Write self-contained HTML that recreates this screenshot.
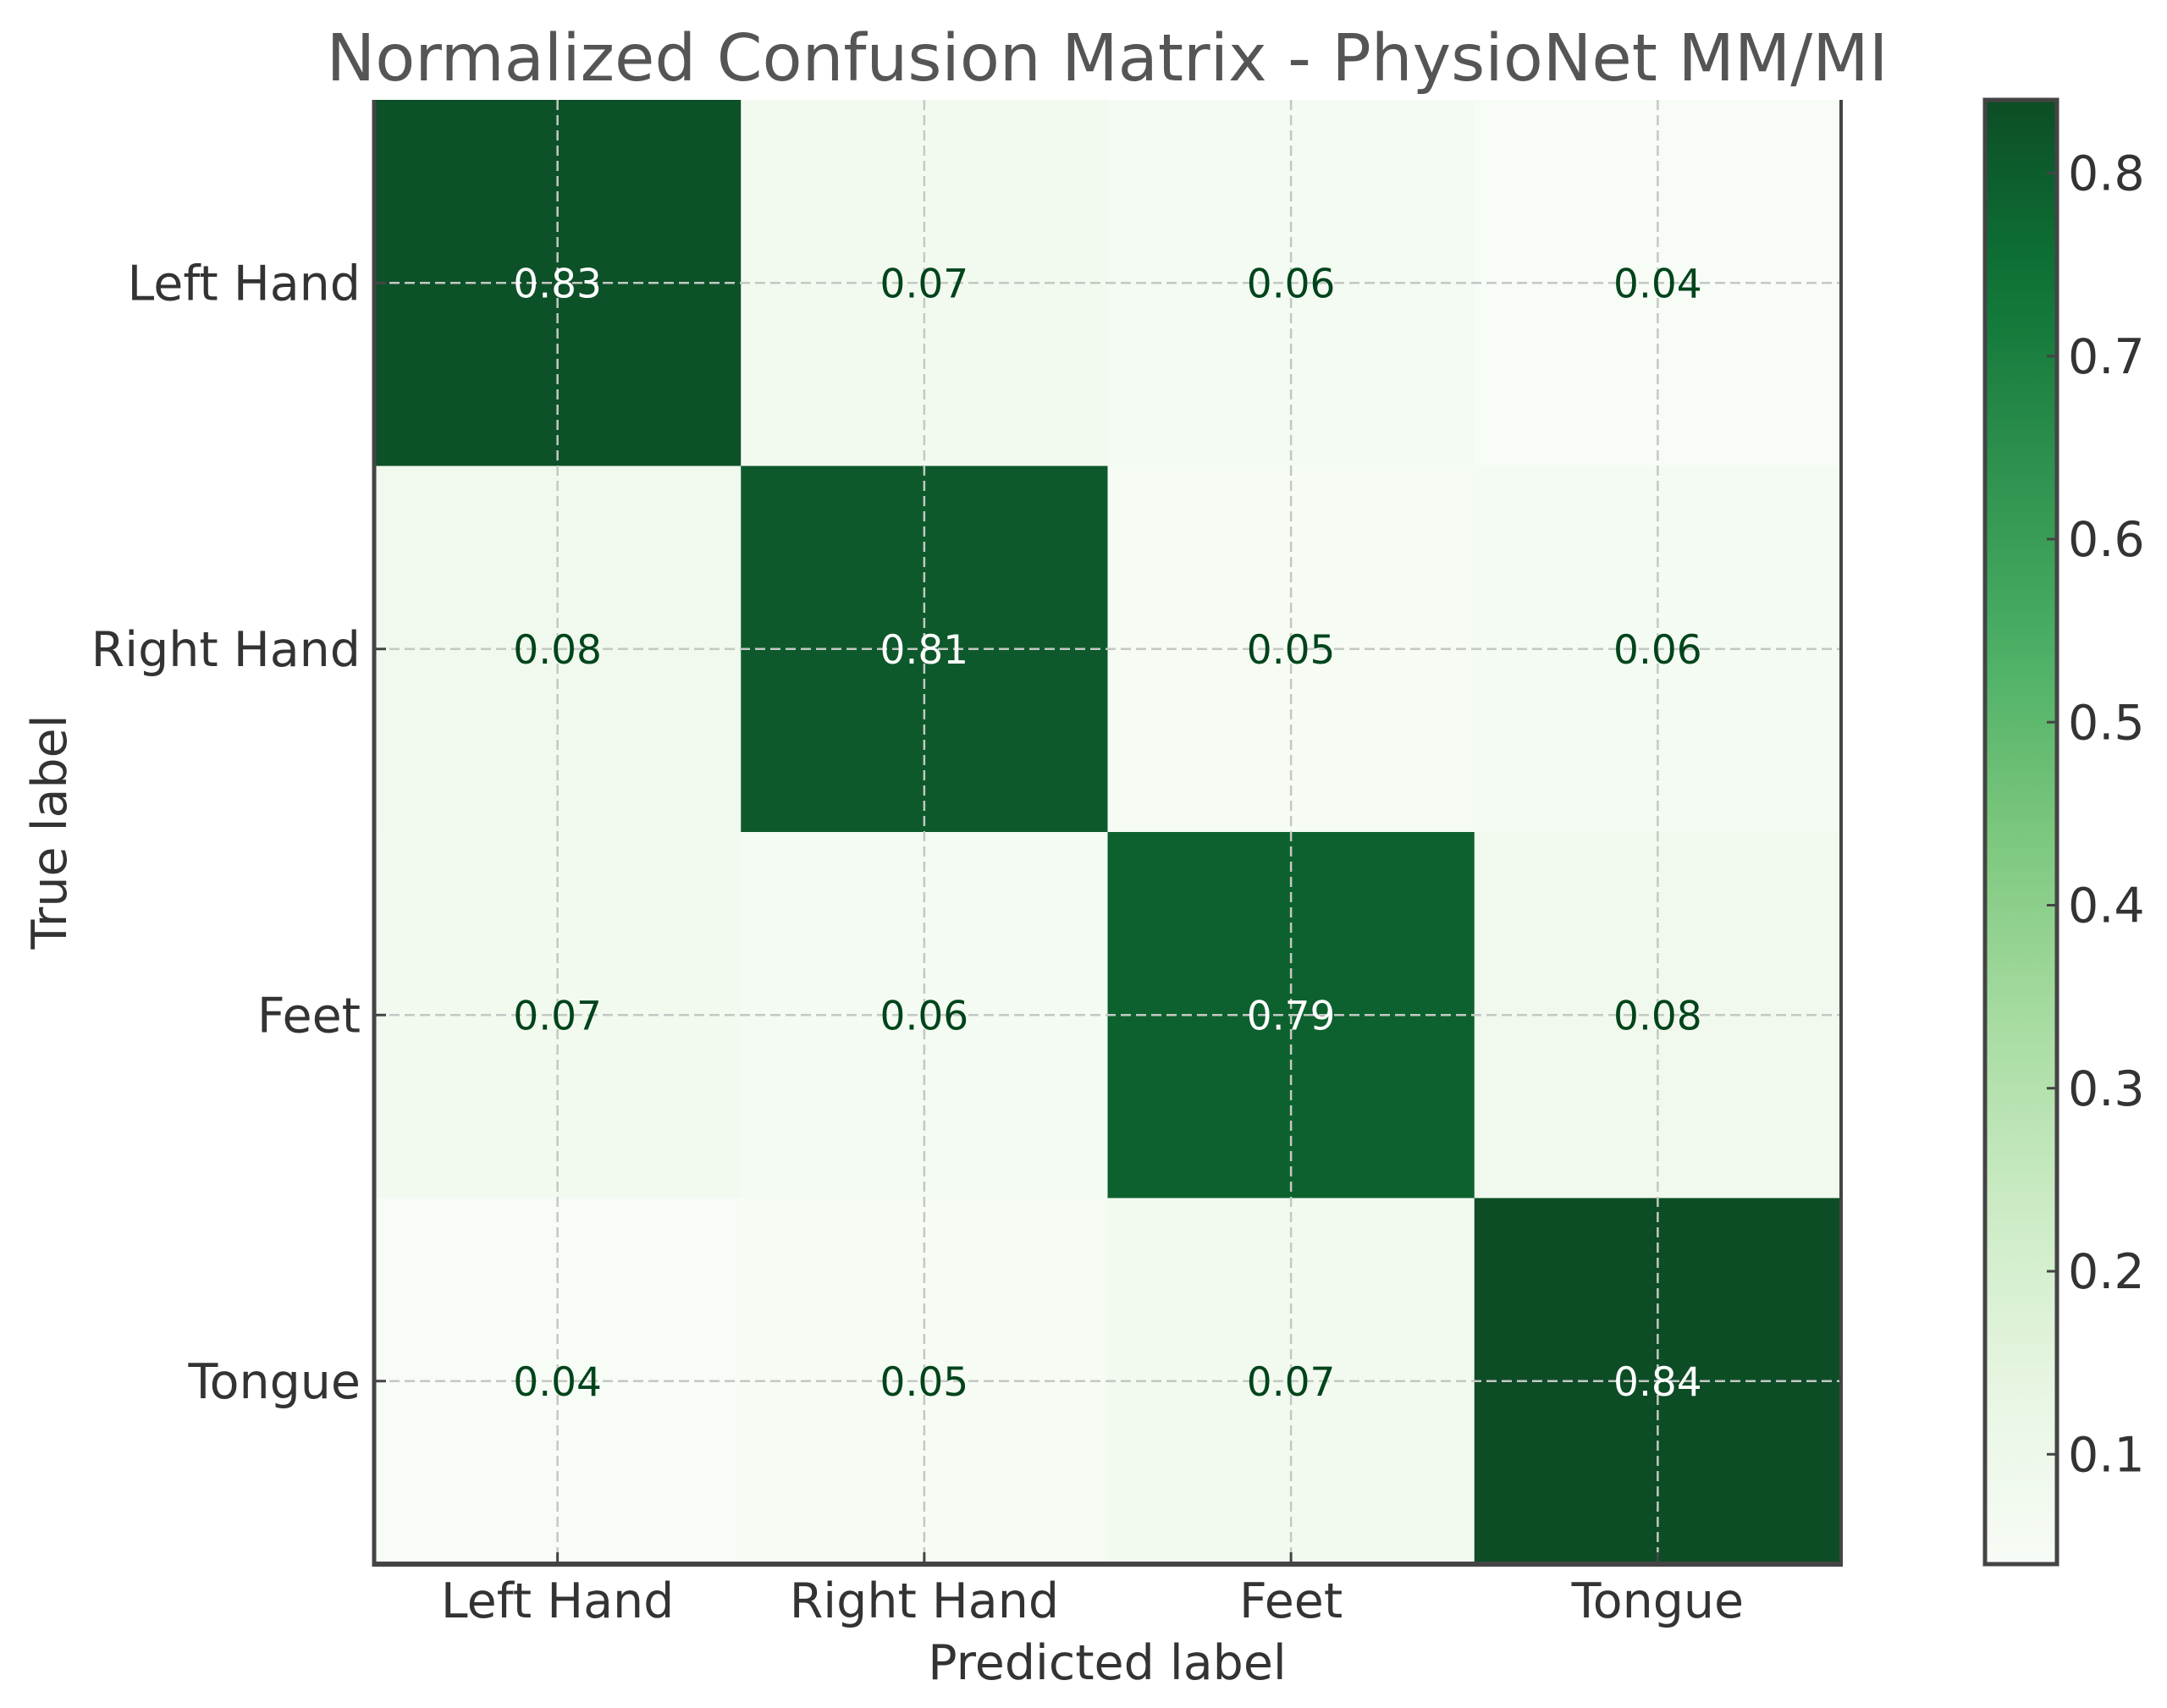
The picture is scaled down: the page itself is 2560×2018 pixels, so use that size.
<!DOCTYPE html>
<html><head><meta charset="utf-8"><style>
html,body{margin:0;padding:0;background:#fff;}
svg{display:block;font-family:"DejaVu Sans","Liberation Sans",sans-serif;}
</style></head><body>
<svg id="chart" width="2560" height="2018" viewBox="0 0 2560 2018" xmlns="http://www.w3.org/2000/svg">
<text x="1308" y="95" text-anchor="middle" font-size="77" fill="#555">Normalized Confusion Matrix - PhysioNet MM/MI</text>
<g id="cells"></g>
<g id="grid"></g>
<g id="ann"></g>
<g id="axes"></g>
<defs><linearGradient id="cbgrad" x1="0" y1="1" x2="0" y2="0"></linearGradient></defs>
<g id="cbar"></g>
<text x="1308" y="1984" text-anchor="middle" font-size="57" fill="#333">Predicted label</text>
<text transform="translate(78,983) rotate(-90)" text-anchor="middle" font-size="57" fill="#333">True label</text>
</svg>
<script>
const classes = ["Left Hand","Right Hand","Feet","Tongue"];
const row0 = [0.83,0.07,0.06,0.04];
const row1 = [0.08,0.81,0.05,0.06];
const row2 = [0.07,0.06,0.79,0.08];
const row3 = [0.04,0.05,0.07,0.84];
const cbTicks = [0.1,0.2,0.3,0.4,0.5,0.6,0.7,0.8];
const vmin = 0.04, vmax = 0.84;
const matrix = [row0,row1,row2,row3];

const NS = "http://www.w3.org/2000/svg";
const L=442,R=2175,T=118,B=1848;
const cw=(R-L)/classes.length, ch=(B-T)/classes.length;
const xPos=i=>L+cw*(i+0.5), yPos=i=>T+ch*(i+0.5);
const stops=["#f7fcf5","#e5f5e0","#c7e9c0","#a1d99b","#74c476","#41ab5d","#238b45","#006d2c","#00441b"];
function hex(h){return [1,3,5].map(k=>parseInt(h.substr(k,2),16));}
function cmap(v){let t=Math.max(0,Math.min(1,(v-vmin)/(vmax-vmin)))*(stops.length-1);
 let i=Math.min(Math.floor(t),stops.length-2),f=t-i;const a=hex(stops[i]),b=hex(stops[i+1]);
 return "rgb("+a.map((c,k)=>Math.round((c+(b[k]-c)*f)*0.95+255*0.05)).join(",")+")";}
function mk(tag,attrs,parent){const e=document.createElementNS(NS,tag);for(const k in attrs)e.setAttribute(k,attrs[k]);parent.appendChild(e);return e;}
const cells=document.getElementById("cells"),ann=document.getElementById("ann"),grid=document.getElementById("grid"),axes=document.getElementById("axes"),cbar=document.getElementById("cbar");
matrix.forEach((row,r)=>row.forEach((v,c)=>{
 const rc=mk("rect",{x:L+c*cw,y:T+r*ch,width:cw+0.5,height:ch+0.5,fill:cmap(v)},cells);
 
 
 const tx=mk("text",{x:xPos(c),y:yPos(r)+17,"text-anchor":"middle","font-size":"47",fill:v>(vmin+vmax)/2?"#fff":"#00441b"},ann);
 tx.textContent=v.toFixed(2);
 
 
}));
classes.forEach((name,i)=>{
 const gv=mk("line",{x1:xPos(i),x2:xPos(i),y1:T,y2:B,stroke:"#c4c8c4","stroke-width":2.5,"stroke-dasharray":"12,6"},grid);
 
 
 const gh=mk("line",{x1:L,x2:R,y1:yPos(i),y2:yPos(i),stroke:"#c4c8c4","stroke-width":2.5,"stroke-dasharray":"12,6"},grid);
 
 
 mk("line",{x1:xPos(i),x2:xPos(i),y1:B,y2:B-14,stroke:"#444","stroke-width":3},axes);
 mk("line",{x1:L,x2:L+14,y1:yPos(i),y2:yPos(i),stroke:"#444","stroke-width":3},axes);
 const xl=mk("text",{x:xPos(i),y:1911,"text-anchor":"middle","font-size":"57",fill:"#333"},axes);
 xl.textContent=name;
 
 
 const yl=mk("text",{x:426,y:yPos(i)+20,"text-anchor":"end","font-size":"57",fill:"#333"},axes);
 yl.textContent=name;
 
 
});
mk("line",{x1:L,x2:L,y1:T,y2:B+3,stroke:"#444","stroke-width":5},axes);
mk("line",{x1:R,x2:R,y1:T,y2:B+3,stroke:"#444","stroke-width":4},axes);
mk("line",{x1:L-2,x2:R+2,y1:B,y2:B,stroke:"#444","stroke-width":6},axes);
// colorbar
const CL=2345,CR=2430,CT=118,CB=1848;
const grad=document.getElementById("cbgrad");
for(let k=0;k<=20;k++){const v=vmin+(vmax-vmin)*k/20;mk("stop",{offset:(k*5)+"%","stop-color":cmap(v)},grad);}
mk("rect",{x:CL,y:CT,width:CR-CL,height:CB-CT,fill:"url(#cbgrad)",stroke:"#444","stroke-width":5},cbar);
const cy=v=>CB-(v-vmin)/(vmax-vmin)*(CB-CT);
cbTicks.forEach(t=>{
 mk("line",{x1:CR,x2:CR-12,y1:cy(t),y2:cy(t),stroke:"#444","stroke-width":3},cbar);
 const tl=mk("text",{x:CR+13,y:cy(t)+20,"font-size":"57",fill:"#333"},cbar);
 tl.textContent=t.toFixed(1);
 
 
});
</script>
</body></html>
